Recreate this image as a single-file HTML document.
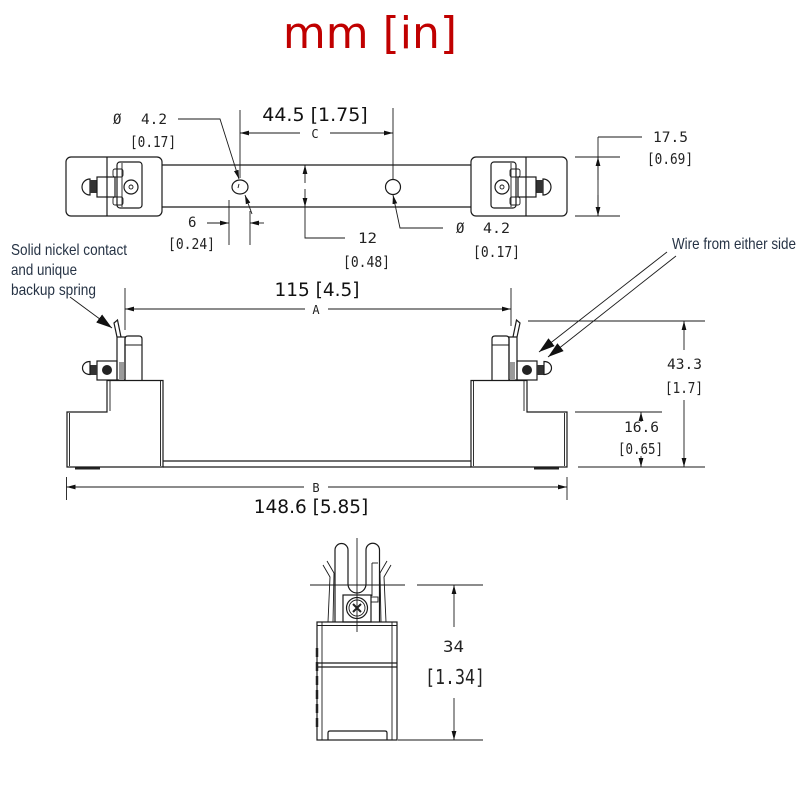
<!DOCTYPE html>
<html><head><meta charset="utf-8"><style>
html,body{margin:0;padding:0;background:#fff;}
svg{display:block;}
.l{stroke:#1a1a1a;stroke-width:1.2;fill:none;}
.t{stroke:#1a1a1a;stroke-width:0.9;fill:none;}
.m{font-family:"DejaVu Sans Mono","Liberation Mono",monospace;fill:#222;}
.s{font-family:"DejaVu Sans","Liberation Sans",sans-serif;fill:#111;}
.n{font-family:"Liberation Sans",sans-serif;fill:#263345;font-size:16px;}
</style></head><body>
<svg width="800" height="800" viewBox="0 0 800 800" xmlns="http://www.w3.org/2000/svg">
<defs>
<marker id="a" markerWidth="9" markerHeight="6" refX="9" refY="3" orient="auto" markerUnits="userSpaceOnUse"><path d="M0,0.6 L9,3 L0,5.4 z" fill="#111"/></marker>
<marker id="b" markerWidth="16" markerHeight="10" refX="16" refY="5" orient="auto" markerUnits="userSpaceOnUse"><path d="M0,0 L16,5 L0,10 z" fill="#111"/></marker>
<g id="topblk">
  <rect x="66" y="157" width="96" height="59" rx="5" class="l" stroke-width="1.6"/>
  <line x1="107" y1="157" x2="107" y2="216" class="l"/>
  <path d="M90,179 A8,8 0 0 0 90,195 Z" class="l"/>
  <rect x="90" y="180" width="7" height="13" fill="#333"/>
  <rect x="97" y="177" width="18" height="20" class="l"/>
  <rect x="117" y="162" width="25" height="46" rx="3" class="l"/>
  <line x1="122" y1="163" x2="122" y2="207" class="t"/>
  <rect x="113" y="169" width="10" height="8" rx="2" class="t" fill="#fff"/>
  <rect x="113" y="197" width="10" height="8" rx="2" class="t" fill="#fff"/>
  <circle cx="131" cy="187" r="7" class="l"/>
  <circle cx="131" cy="187" r="2" class="t"/>
</g>
<g id="sideblk">
  <path d="M67,412 L107,412 L107,380.5 L163,380.5 L163,467 L67,467 Z" class="l"/>
  <line x1="69.5" y1="413" x2="69.5" y2="466" class="t"/>
  <line x1="110" y1="381" x2="110" y2="411" class="t"/>
  <line x1="160.5" y1="381" x2="160.5" y2="466" class="t"/>
  <line x1="75" y1="468.5" x2="100" y2="468.5" stroke="#222" stroke-width="2"/>
  <path d="M125,380 L125,339 Q125,336 128,336 L139,336 Q142,336 142,339 L142,380" class="l"/>
  <line x1="125" y1="345" x2="142" y2="345" class="t"/>
  <rect x="117" y="337" width="8" height="43" class="l"/>
  <rect x="119" y="362" width="5" height="18" fill="#9a9a9a"/>
  <path d="M117,337 L114,323 L117.5,320 L121,337" class="l"/>
  <rect x="97" y="361" width="20" height="19" class="l"/>
  <circle cx="107" cy="370" r="5" fill="#222"/>
  <rect x="90" y="365" width="7" height="10" fill="#333"/>
  <path d="M90,361.5 C80,361.5 80,374.5 90,374.5 Z" class="l"/>
</g>
</defs>

<!-- title -->
<text x="370" y="48" text-anchor="middle" font-family="DejaVu Sans, Liberation Sans, sans-serif" font-size="44" fill="#c00000">mm [in]</text>

<!-- ===== TOP VIEW ===== -->
<line x1="162" y1="165" x2="471" y2="165" class="l"/>
<line x1="162" y1="207" x2="471" y2="207" class="l"/>
<use href="#topblk"/>
<use href="#topblk" transform="translate(633,0) scale(-1,1)"/>
<ellipse cx="240" cy="187" rx="8" ry="7" class="l"/>
<line x1="239" y1="184" x2="238" y2="188" class="t"/>
<circle cx="393" cy="187" r="7.5" class="l"/>

<!-- C dim -->
<line x1="240" y1="110" x2="240" y2="178" class="t"/>
<line x1="393" y1="108" x2="393" y2="179" class="t"/>
<line x1="300" y1="133" x2="240" y2="133" class="t" marker-end="url(#a)"/>
<line x1="330" y1="133" x2="393" y2="133" class="t" marker-end="url(#a)"/>
<text x="315" y="138" text-anchor="middle" class="m" font-size="12">C</text>
<text x="315" y="121" text-anchor="middle" class="s" font-size="19">44.5 [1.75]</text>

<!-- left dia -->
<polyline points="178,119 220,119 239,179" class="t" marker-end="url(#a)"/>
<text x="113" y="124" class="m" font-size="14">Ø</text>
<text x="141" y="124" class="m" font-size="14" textLength="26" lengthAdjust="spacingAndGlyphs">4.2</text>
<text x="130" y="147" class="m" font-size="15.5" textLength="46" lengthAdjust="spacingAndGlyphs">[0.17]</text>
<line x1="252" y1="214" x2="245" y2="195" class="t" marker-end="url(#a)"/>

<!-- 6 dim -->
<line x1="229" y1="200" x2="229" y2="245" class="t"/>
<line x1="250" y1="211" x2="250" y2="245" class="t"/>
<line x1="207" y1="223" x2="229" y2="223" class="t" marker-end="url(#a)"/>
<line x1="264" y1="223" x2="250" y2="223" class="t" marker-end="url(#a)"/>
<text x="188" y="227" class="m" font-size="14">6</text>
<text x="168" y="249" class="m" font-size="15.5" textLength="47" lengthAdjust="spacingAndGlyphs">[0.24]</text>

<!-- 12 dim -->
<line x1="305" y1="183" x2="305" y2="165" class="t" marker-end="url(#a)"/>
<line x1="305" y1="189" x2="305" y2="207" class="t" marker-end="url(#a)"/>
<polyline points="305,207 305,238 345,238" class="t"/>
<text x="358" y="243" class="m" font-size="14" textLength="19" lengthAdjust="spacingAndGlyphs">12</text>
<text x="343" y="267" class="m" font-size="15.5" textLength="47" lengthAdjust="spacingAndGlyphs">[0.48]</text>

<!-- right dia -->
<polyline points="443,228 400,228 393,195" class="t" marker-end="url(#a)"/>
<text x="456" y="233" class="m" font-size="14">Ø</text>
<text x="483" y="233" class="m" font-size="14" textLength="27" lengthAdjust="spacingAndGlyphs">4.2</text>
<text x="473" y="257" class="m" font-size="15.5" textLength="47" lengthAdjust="spacingAndGlyphs">[0.17]</text>

<!-- 17.5 dim -->
<line x1="575" y1="157" x2="620" y2="157" class="t"/>
<line x1="575" y1="216" x2="620" y2="216" class="t"/>
<line x1="598" y1="137" x2="598" y2="216" class="t"/>
<line x1="598" y1="180" x2="598" y2="157" class="t" marker-end="url(#a)"/>
<line x1="598" y1="195" x2="598" y2="216" class="t" marker-end="url(#a)"/>
<line x1="598" y1="137" x2="642" y2="137" class="t"/>
<text x="653" y="142" class="m" font-size="14" textLength="35" lengthAdjust="spacingAndGlyphs">17.5</text>
<text x="647" y="164" class="m" font-size="15.5" textLength="46" lengthAdjust="spacingAndGlyphs">[0.69]</text>

<!-- ===== SIDE VIEW ===== -->
<text x="11" y="255" class="n" textLength="116" lengthAdjust="spacingAndGlyphs">Solid nickel contact</text>
<text x="11" y="275" class="n" textLength="66" lengthAdjust="spacingAndGlyphs">and unique</text>
<text x="11" y="295" class="n" textLength="85" lengthAdjust="spacingAndGlyphs">backup spring</text>
<line x1="70" y1="297" x2="112" y2="328" class="t" marker-end="url(#b)"/>

<text x="672" y="249" class="n" textLength="124" lengthAdjust="spacingAndGlyphs">Wire from either side</text>
<line x1="667" y1="252" x2="539" y2="352" class="t" marker-end="url(#b)"/>
<line x1="676" y1="256" x2="548" y2="357" class="t" marker-end="url(#b)"/>

<use href="#sideblk"/>
<use href="#sideblk" transform="translate(634,0) scale(-1,1)"/>
<line x1="163" y1="461" x2="471" y2="461" class="l"/>
<line x1="163" y1="467" x2="471" y2="467" class="l"/>

<!-- A dim -->
<line x1="125" y1="288" x2="125" y2="330" class="t"/>
<line x1="511" y1="288" x2="511" y2="326" class="t"/>
<line x1="305" y1="309" x2="125" y2="309" class="t" marker-end="url(#a)"/>
<line x1="328" y1="309" x2="511" y2="309" class="t" marker-end="url(#a)"/>
<text x="316" y="314" text-anchor="middle" class="m" font-size="12">A</text>
<text x="317" y="296" text-anchor="middle" class="s" font-size="18.5">115 [4.5]</text>

<!-- B dim -->
<line x1="66.5" y1="477" x2="66.5" y2="500" class="t"/>
<line x1="567" y1="477" x2="567" y2="500" class="t"/>
<line x1="304" y1="487" x2="66.5" y2="487" class="t" marker-end="url(#a)"/>
<line x1="328" y1="487" x2="567" y2="487" class="t" marker-end="url(#a)"/>
<text x="316" y="492" text-anchor="middle" class="m" font-size="12">B</text>
<text x="311" y="513" text-anchor="middle" class="s" font-size="18.5">148.6 [5.85]</text>

<!-- 43.3 dim -->
<line x1="528" y1="321" x2="705" y2="321" class="t"/>
<line x1="578" y1="467" x2="705" y2="467" class="t"/>
<line x1="684" y1="350" x2="684" y2="321" class="t" marker-end="url(#a)"/>
<line x1="684" y1="400" x2="684" y2="467" class="t" marker-end="url(#a)"/>
<text x="667" y="369" class="m" font-size="14" textLength="35" lengthAdjust="spacingAndGlyphs">43.3</text>
<text x="665" y="393" class="m" font-size="15.5" textLength="38" lengthAdjust="spacingAndGlyphs">[1.7]</text>

<!-- 16.6 dim -->
<line x1="575" y1="412" x2="662" y2="412" class="t"/>
<line x1="641" y1="422" x2="641" y2="412" class="t" marker-end="url(#a)"/>
<line x1="641" y1="456" x2="641" y2="467" class="t" marker-end="url(#a)"/>
<text x="624" y="432" class="m" font-size="14" textLength="35" lengthAdjust="spacingAndGlyphs">16.6</text>
<text x="618" y="454" class="m" font-size="15.5" textLength="45" lengthAdjust="spacingAndGlyphs">[0.65]</text>

<!-- ===== END VIEW ===== -->
<line x1="357" y1="538" x2="357" y2="632" class="t" stroke-width="0.7"/>
<path d="M335,622 L335,550 A6.5,6.5 0 0 1 348,550 L348,584 A9,9 0 0 0 366,584 L366,550 A6.75,6.75 0 0 1 379.5,550 L379.5,622" class="l"/>
<line x1="372" y1="563" x2="378" y2="563" class="t"/>
<line x1="372" y1="563" x2="372" y2="596" class="t"/>
<rect x="371" y="597" width="7" height="5" class="t"/>
<path d="M323,565 L330,577 L328,622 M327,561 L334,573 L333,622" class="t"/>
<path d="M391,565 L384,577 L386,622 M387,561 L380,573 L381,622" class="t"/>
<line x1="310" y1="585" x2="405" y2="585" class="t" stroke-width="0.7"/>
<rect x="343" y="595" width="28" height="27" class="l" fill="#fff"/>
<circle cx="357" cy="608" r="10.5" class="l"/>
<circle cx="357" cy="608" r="8" class="t"/>
<path d="M353,604 L361,612 M361,604 L353,612" stroke="#222" stroke-width="2"/>

<rect x="317" y="622" width="80" height="118" class="l" fill="#fff"/>
<line x1="317" y1="625.5" x2="397" y2="625.5" class="t"/>
<line x1="322" y1="622" x2="322" y2="740" class="t"/>
<line x1="392" y1="622" x2="392" y2="740" class="t"/>
<line x1="317" y1="663" x2="397" y2="663" class="l"/>
<line x1="317" y1="667" x2="397" y2="667" class="l"/>
<line x1="317" y1="648" x2="317" y2="728" stroke="#222" stroke-width="2.5" stroke-dasharray="9,5"/>
<path d="M328,740 L328,733 Q328,731 330,731 L385,731 Q387,731 387,733 L387,740" class="l"/>

<!-- 34 dim -->
<line x1="417" y1="585" x2="483" y2="585" class="t"/>
<line x1="398" y1="740" x2="483" y2="740" class="t"/>
<line x1="454" y1="627" x2="454" y2="585" class="t" marker-end="url(#a)"/>
<line x1="454" y1="698" x2="454" y2="740" class="t" marker-end="url(#a)"/>
<text x="443" y="652" class="m" font-size="16" textLength="21" lengthAdjust="spacingAndGlyphs">34</text>
<text x="425" y="684" class="m" font-size="20" textLength="60" lengthAdjust="spacingAndGlyphs">[1.34]</text>
</svg>
</body></html>
